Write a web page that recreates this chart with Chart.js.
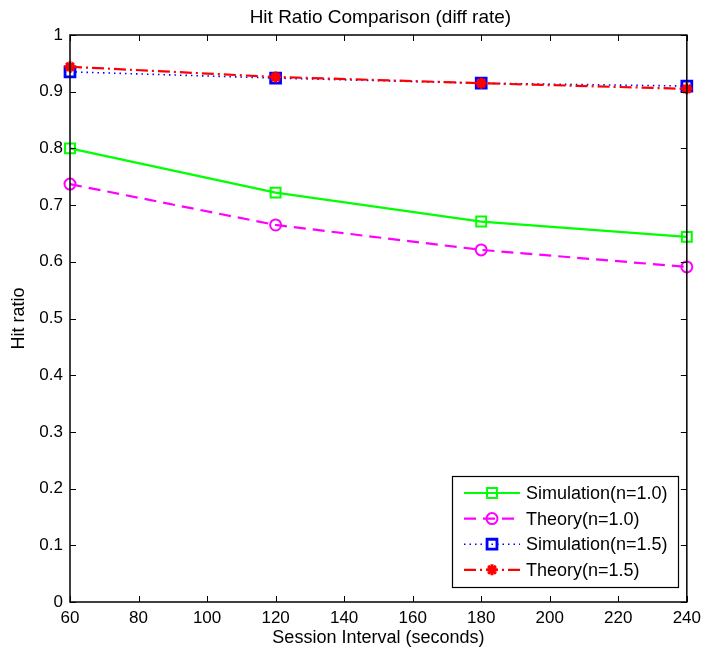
<!DOCTYPE html>
<html>
<head>
<meta charset="utf-8">
<script src="https://cdn.jsdelivr.net/npm/chart.js@4"></script>
<style>
  html, body { margin: 0; padding: 0; background: #fff; }
  #wrap { width: 707px; height: 655px; }
</style>
</head>
<body>
<div id="wrap"><canvas id="hitChart"></canvas></div>
<script>
// session interval (seconds)
var intervals = [60, 120, 180, 240];
// hit ratios
var simN10 = [0.800, 0.722, 0.671, 0.644];
var theoryN10 = [0.737, 0.665, 0.621, 0.591];
var simN15 = [0.935, 0.924, 0.915, 0.910];
var theoryN15 = [0.944, 0.926, 0.915, 0.905];
var xTicks = [60, 80, 100, 120, 140, 160, 180, 200, 220, 240];
var yTicks = [0, 0.1, 0.2, 0.3, 0.4, 0.5, 0.6, 0.7, 0.8, 0.9, 1];
var chartTitle = 'Hit Ratio Comparison (diff rate)';

var FONT = 'Liberation Sans, Arial, sans-serif';

function pts(vals) {
    return intervals.map(function (x, i) { return { x: x, y: vals[i] }; });
}

// title over the axes, box frame, inward ticks on all four sides, boxed legend
var framePlugin = {
    id: 'frame',
    afterDatasetsDraw: function (chart) {
        var c = chart.ctx, a = chart.chartArea;
        var xs = chart.scales.x, ys = chart.scales.y;
        c.save();

        c.fillStyle = '#000';
        c.font = '19px ' + FONT;
        c.textAlign = 'center';
        c.textBaseline = 'alphabetic';
        c.fillText(chartTitle, (a.left + a.right) / 2 + 2, 23);
        c.textAlign = 'left';

        c.strokeStyle = '#000';
        c.lineWidth = 1;
        c.beginPath();
        xTicks.forEach(function (v) {
            var px = Math.round(xs.getPixelForValue(v)) + 0.5;
            c.moveTo(px, a.bottom); c.lineTo(px, a.bottom - 6);
            c.moveTo(px, a.top); c.lineTo(px, a.top + 6);
        });
        yTicks.forEach(function (v) {
            var py = Math.round(ys.getPixelForValue(v)) + 0.5;
            c.moveTo(a.left, py); c.lineTo(a.left + 6, py);
            c.moveTo(a.right, py); c.lineTo(a.right - 6, py);
        });
        c.stroke();
        c.lineWidth = 1.5;
        c.strokeRect(a.left, a.top, a.right - a.left, a.bottom - a.top);

        // legend
        var lx = 452, ly = 476, lw = 226, lh = 111;
        c.fillStyle = '#fff';
        c.fillRect(lx, ly, lw, lh);
        c.lineWidth = 1.2;
        c.strokeRect(lx + 0.5, ly + 0.5, lw, lh);
        chart.data.datasets.forEach(function (ds, i) {
            var y = ly + 17 + i * 25.6;
            c.save();
            c.strokeStyle = ds.borderColor;
            c.lineWidth = ds.borderWidth;
            c.setLineDash(ds.borderDash || []);
            c.beginPath();
            c.moveTo(464, y); c.lineTo(520, y);
            c.stroke();
            c.restore();
            c.save();
            c.strokeStyle = ds.pointBorderColor;
            c.fillStyle = ds.pointBackgroundColor;
            c.lineWidth = ds.pointBorderWidth;
            c.setLineDash([]);
            Chart.helpers.drawPoint(c, {
                pointStyle: ds.pointStyle,
                radius: ds.pointRadius,
                borderWidth: ds.pointBorderWidth,
                rotation: 0
            }, 492, y);
            c.restore();
            c.fillStyle = '#000';
            c.font = '18px ' + FONT;
            c.textBaseline = 'middle';
            c.fillText(ds.label, 526, y + 1);
        });
        c.restore();
    }
};

var ctx = document.getElementById('hitChart').getContext('2d');
var hitChart = new Chart(ctx, {
    type: 'line',
    data: {
        datasets: [{
            label: 'Simulation(n=1.0)',
            data: pts(simN10),
            borderColor: '#00ff00',
            backgroundColor: 'rgba(0,0,0,0)',
            borderWidth: 2.2,
            pointStyle: 'rect',
            pointRadius: 7,
            pointBorderWidth: 2,
            pointBorderColor: '#00ff00',
            pointBackgroundColor: 'rgba(0,0,0,0)',
            clip: false,
            order: 4
        }, {
            label: 'Theory(n=1.0)',
            data: pts(theoryN10),
            borderColor: '#ff00ff',
            backgroundColor: 'rgba(0,0,0,0)',
            borderWidth: 2.2,
            borderDash: [12, 7],
            pointStyle: 'circle',
            pointRadius: 5.5,
            pointBorderWidth: 2,
            pointBorderColor: '#ff00ff',
            pointBackgroundColor: 'rgba(0,0,0,0)',
            clip: false,
            order: 3
        }, {
            label: 'Simulation(n=1.5)',
            data: pts(simN15),
            borderColor: '#0000ff',
            backgroundColor: 'rgba(0,0,0,0)',
            borderWidth: 1.6,
            borderDash: [1.5, 4],
            pointStyle: 'rect',
            pointRadius: 7,
            pointBorderWidth: 2.8,
            pointBorderColor: '#0000ff',
            pointBackgroundColor: 'rgba(0,0,0,0)',
            clip: false,
            order: 2
        }, {
            label: 'Theory(n=1.5)',
            data: pts(theoryN15),
            borderColor: '#ff0000',
            backgroundColor: 'rgba(0,0,0,0)',
            borderWidth: 2.2,
            borderDash: [12, 4, 2, 4],
            pointStyle: 'star',
            pointRadius: 5.5,
            pointBorderWidth: 3,
            pointBorderColor: '#ff0000',
            pointBackgroundColor: '#ff0000',
            clip: false,
            order: 1
        }]
    },
    options: {
        responsive: true,
        maintainAspectRatio: false,
        animation: false,
        layout: { padding: { top: 35, left: 0, right: 16, bottom: 0 } },
        plugins: {
            legend: { display: false },
            tooltip: { enabled: false },
            title: { display: false }
        },
        scales: {
            x: {
                type: 'linear',
                min: 60,
                max: 240,
                afterFit: function (s) { s.height = 53; },
                afterBuildTicks: function (s) {
                    s.ticks = xTicks.map(function (v) { return { value: v }; });
                },
                grid: { display: false, drawTicks: false },
                border: { display: false },
                ticks: {
                    color: '#000',
                    padding: 6,
                    maxRotation: 0,
                    font: { family: FONT, size: 17 }
                },
                title: {
                    display: true,
                    text: 'Session Interval (seconds)',
                    color: '#000',
                    font: { family: FONT, size: 18 },
                    padding: { top: 0, bottom: 6 }
                }
            },
            y: {
                min: 0,
                max: 1,
                afterFit: function (s) { s.width = 70; },
                afterBuildTicks: function (s) {
                    s.ticks = yTicks.map(function (v) { return { value: v }; });
                },
                grid: { display: false, drawTicks: false },
                border: { display: false },
                ticks: {
                    color: '#000',
                    padding: 7,
                    font: { family: FONT, size: 17 },
                    callback: function (v) { return String(Math.round(v * 10) / 10); }
                },
                title: {
                    display: true,
                    text: 'Hit ratio',
                    color: '#000',
                    font: { family: FONT, size: 18 },
                    padding: { top: 8, bottom: 0 }
                }
            }
        }
    },
    plugins: [framePlugin]
});
</script>
</body>
</html>
